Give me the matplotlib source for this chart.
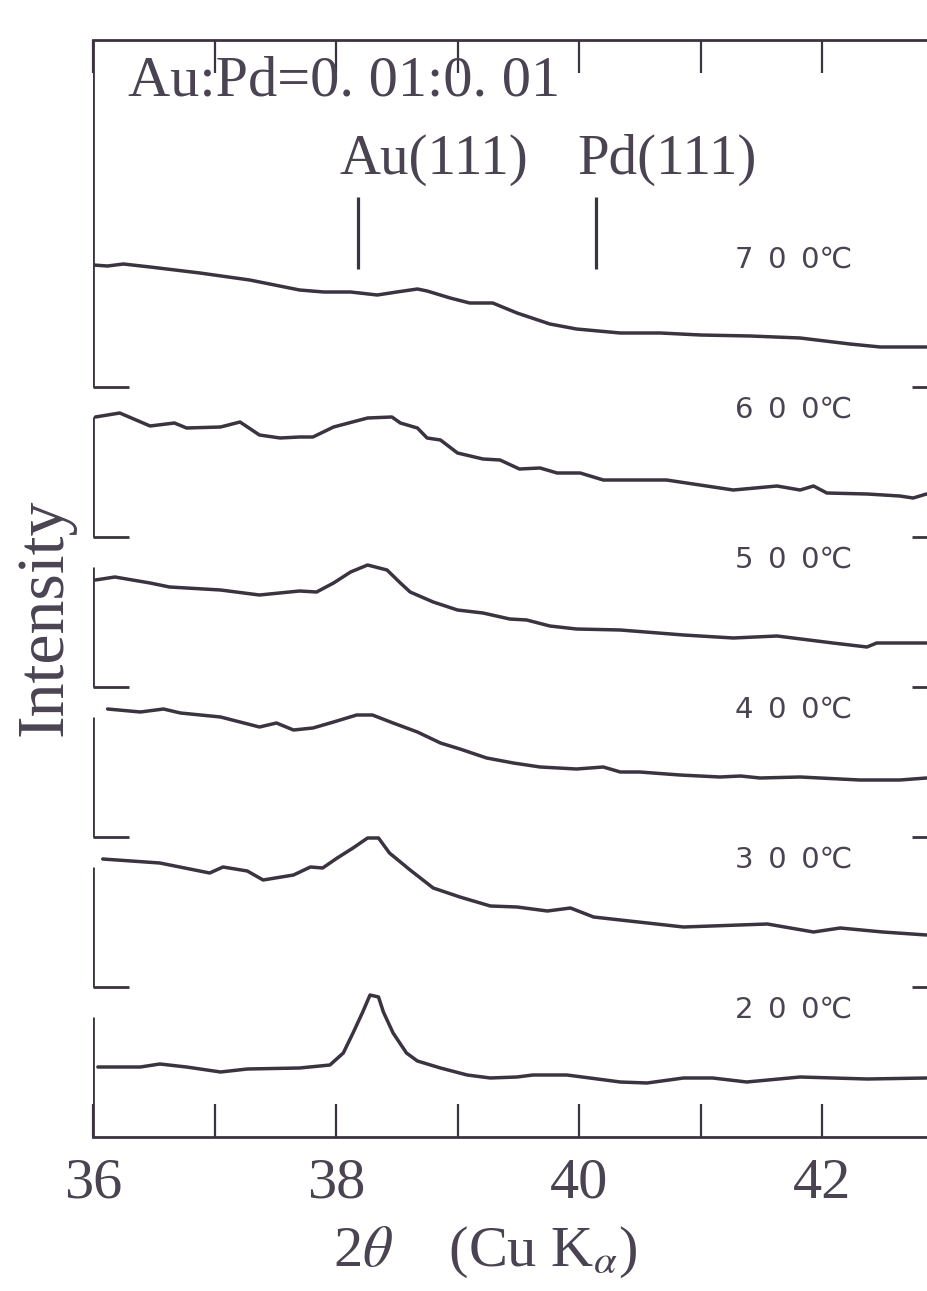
import matplotlib.pyplot as plt

plt.rcParams['mathtext.fontset'] = 'stix'

ink = '#3b3340'
txt = '#4a4452'
serif = 'Liberation Serif'

# 2theta (deg) / intensity (arb. units), one pair per temperature
tt_700 = [36.00, 36.12, 36.25, 36.47, 36.88, 37.29, 37.70, 37.90, 38.12, 38.34, 38.50, 38.67,
          38.75, 38.94, 39.10, 39.29, 39.49, 39.76, 39.98, 40.34, 40.67, 41.00, 41.41, 41.82,
          42.23, 42.48, 42.86]
i_700 = [122, 121, 123, 120, 114, 107, 97, 95, 95, 92, 95, 98,
         96, 89, 84, 84, 74, 63, 58, 54, 54, 52, 51, 49,
         43, 40, 40]

tt_600 = [36.02, 36.22, 36.47, 36.67, 36.77, 37.05, 37.21, 37.37, 37.54, 37.70, 37.81, 37.98,
          38.26, 38.46, 38.53, 38.67, 38.75, 38.86, 39.00, 39.21, 39.35, 39.51, 39.68, 39.82,
          40.01, 40.20, 40.34, 40.72, 41.27, 41.63, 41.82, 41.93, 42.04, 42.37, 42.64, 42.75, 42.86]
i_600 = [120, 124, 111, 114, 109, 110, 115, 102, 99, 100, 100, 110,
         119, 120, 114, 109, 99, 97, 84, 78, 77, 68, 69, 64,
         64, 57, 57, 57, 47, 51, 47, 51, 44, 43, 41, 39, 43]

tt_500 = [36.02, 36.18, 36.47, 36.63, 37.05, 37.37, 37.70, 37.84, 37.98, 38.12, 38.26, 38.42,
          38.53, 38.61, 38.80, 39.00, 39.21, 39.43, 39.57, 39.76, 39.98, 40.34, 40.86, 41.27,
          41.63, 42.09, 42.37, 42.45, 42.86]
i_500 = [107, 110, 104, 100, 97, 92, 96, 95, 104, 115, 122, 117,
         104, 95, 85, 77, 74, 68, 67, 61, 58, 57, 52, 49,
         51, 44, 40, 44, 44]

tt_400 = [36.12, 36.39, 36.58, 36.72, 37.05, 37.37, 37.51, 37.65, 37.81, 37.98, 38.17, 38.30,
          38.47, 38.67, 38.86, 39.02, 39.24, 39.46, 39.68, 39.98, 40.20, 40.34, 40.50, 40.83,
          41.16, 41.33, 41.49, 41.82, 42.31, 42.64, 42.86]
i_400 = [128, 125, 128, 124, 120, 110, 114, 107, 109, 115, 122, 122,
         114, 105, 94, 88, 79, 74, 70, 68, 70, 65, 65, 62,
         60, 61, 59, 60, 57, 57, 59]

tt_300 = [36.08, 36.55, 36.96, 37.07, 37.27, 37.40, 37.65, 37.79, 37.89, 38.01, 38.14, 38.26,
          38.35, 38.44, 38.61, 38.80, 39.02, 39.27, 39.49, 39.74, 39.93, 40.12, 40.34, 40.86,
          41.55, 41.93, 42.15, 42.50, 42.86]
i_300 = [128, 124, 114, 120, 116, 107, 112, 120, 119, 129, 139, 149,
         149, 134, 117, 99, 90, 81, 80, 76, 79, 70, 67, 60,
         63, 55, 59, 55, 52]

tt_200 = [36.04, 36.39, 36.55, 36.77, 37.05, 37.27, 37.70, 37.95, 38.06, 38.14, 38.22, 38.28,
          38.35, 38.39, 38.47, 38.58, 38.67, 38.86, 39.08, 39.27, 39.49, 39.62, 39.90, 40.09,
          40.34, 40.56, 40.86, 41.10, 41.38, 41.82, 42.37, 42.86]
i_200 = [70, 70, 73, 70, 65, 68, 69, 72, 84, 104, 125, 142,
         140, 125, 104, 84, 76, 69, 62, 59, 60, 62, 62, 59,
         55, 54, 59, 59, 55, 60, 58, 59]

temps = ['200', '300', '400', '500', '600', '700']
series = [(tt_200, i_200), (tt_300, i_300), (tt_400, i_400),
          (tt_500, i_500), (tt_600, i_600), (tt_700, i_700)]
step = 150  # vertical shift between patterns

peaks = {'Au(111)': 38.18, 'Pd(111)': 40.14}

fig = plt.figure(figsize=(9.27, 12.91), dpi=100)
ax = fig.add_axes([93 / 927, 1 - 1137 / 1291, 834 / 927, 1097 / 1291])
ax.set_xlim(36, 36 + 834 / 121.5)
ax.set_ylim(0, 1097)

for k, (t, (x, y)) in enumerate(zip(temps, series)):
    off = k * step
    ax.plot(x, [v + off for v in y], color=ink, lw=2.5, solid_joinstyle='round',
            solid_capstyle='round')
    # broken left axis + small corner ticks for each pattern
    top = 1097 if k == len(temps) - 1 else off + 120
    ax.vlines(36, off, top, color=ink, lw=2)
    if k > 0:
        ax.hlines(off, 36, 36.3, color=ink, lw=2)
        ax.hlines(off, 42.74, 42.9, color=ink, lw=2)
    ax.text(41.28, off + 127, t[0] + '\u2002' + t[1] + '\u2002' + t[2] + '\u2103',
            fontsize=21, color=txt, va='center', ha='left',
            family=['DejaVu Sans', 'Noto Sans CJK JP'])

# reflection markers
for name, pos in peaks.items():
    ax.vlines(pos, 868, 940, color=ink, lw=2.3)
    ax.text(pos - 0.15, 977, name, fontsize=41, color=txt, family=serif,
            ha='left', va='center')

ax.text(36.29, 1055, 'Au:Pd=0. 01:0. 01', fontsize=42, color=txt,
        family=serif, ha='left', va='center')

for s in ['left', 'right']:
    ax.spines[s].set_visible(False)
for s in ['top', 'bottom']:
    ax.spines[s].set_linewidth(2)
    ax.spines[s].set_color(ink)

ax.set_yticks([])
ax.set_xticks([36, 38, 40, 42])
ax.set_xticks([37, 39, 41], minor=True)
ax.tick_params(axis='x', which='both', direction='in', top=True, length=24,
               width=1.6, color=ink, pad=15, labelsize=42, labelcolor=txt)
for lab in ax.get_xticklabels():
    lab.set_family(serif)

ax.set_xlabel('2$\\theta$    (Cu K$_{\\alpha}$)', fontsize=42, color=txt, family=serif)
ax.xaxis.set_label_coords(0.47, -0.08)
fig.text(45 / 927, 1 - 617 / 1291, 'Intensity', rotation=90, fontsize=49, color=txt,
         family=serif, ha='center', va='center')

fig.savefig('out.png', dpi=100)
